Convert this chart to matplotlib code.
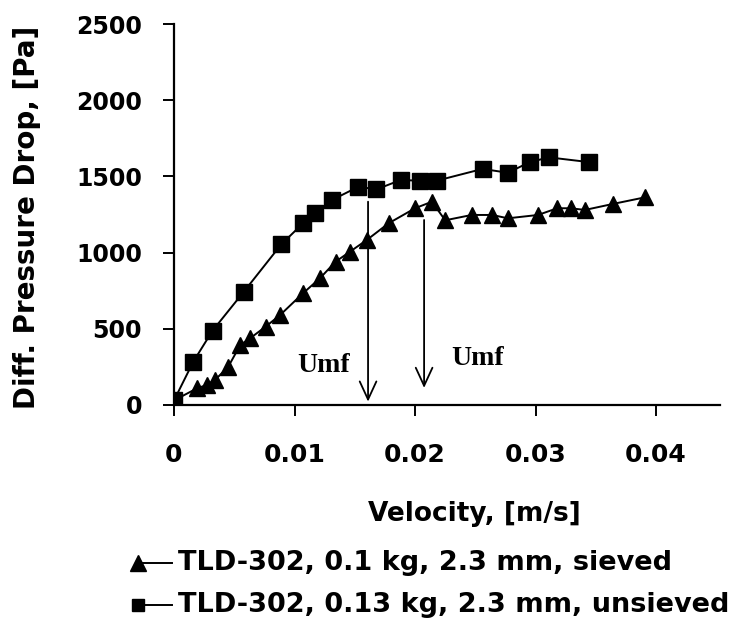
import matplotlib
matplotlib.use("Agg")
import matplotlib.pyplot as plt
from matplotlib.lines import Line2D

# Velocity [m/s] and differential pressure drop [Pa]
u_sieved = [0.0, 0.0019, 0.0027, 0.0034, 0.0045, 0.0055, 0.0063, 0.0076, 0.0088,
            0.0107, 0.0121, 0.0134, 0.0146, 0.0160, 0.0178, 0.0200, 0.0214, 0.0225,
            0.0247, 0.0264, 0.0277, 0.0302, 0.0318, 0.0329, 0.0341, 0.0364, 0.0391]
dp_sieved = [30, 109, 131, 164, 251, 394, 437, 514, 590,
             733, 831, 940, 1006, 1083, 1192, 1291, 1334, 1212,
             1247, 1247, 1225, 1247, 1291, 1291, 1280, 1319, 1363]

u_unsieved = [0.0, 0.0016, 0.0032, 0.0058, 0.0089, 0.0107, 0.0117, 0.0131, 0.0153,
              0.0168, 0.0188, 0.0204, 0.0218, 0.0256, 0.0277, 0.0295, 0.0311, 0.0344]
dp_unsieved = [30, 284, 488, 744, 1054, 1192, 1258, 1345, 1432,
               1415, 1476, 1472, 1472, 1549, 1524, 1593, 1625, 1594]

label_sieved = "TLD-302, 0.1 kg, 2.3 mm, sieved"
label_unsieved = "TLD-302, 0.13 kg, 2.3 mm, unsieved"

# Minimum fluidization velocity markers: (velocity, arrow top, arrow tip, text x, text y)
umf_x = [0.0161, 0.02075]
umf_top = [1334, 1214]
umf_tip = [22, 112]
umf_text_x = [0.01245, 0.0252]
umf_text_y = [262, 302]

x_ticks = [0, 0.01, 0.02, 0.03, 0.04]
x_ticklabels = ["0", "0.01", "0.02", "0.03", "0.04"]
y_ticks = [0, 500, 1000, 1500, 2000, 2500]

plt.rcParams["font.family"] = ["DejaVu Sans"]

fig = plt.figure(figsize=(7.4, 6.28), dpi=100)
W, H = 740, 628
AX_L, AX_R, AX_T, AX_B = 174, 720, 24, 405
ax = fig.add_axes([AX_L / W, 1 - AX_B / H, (AX_R - AX_L) / W, (AX_B - AX_T) / H])

ax.plot(u_sieved, dp_sieved, color="black", lw=1.4, marker="^", ms=11,
        mfc="black", mec="black", zorder=3)
ax.plot(u_unsieved, dp_unsieved, color="black", lw=1.4, marker="s", ms=11,
        mfc="black", mec="black", zorder=3)

ax.set_xlim(0, 0.0453)
ax.set_ylim(0, 2500)
ax.set_xticks(x_ticks)
ax.set_xticklabels(x_ticklabels)
ax.set_yticks(y_ticks)

for side in ("top", "right"):
    ax.spines[side].set_visible(False)
for side in ("left", "bottom"):
    ax.spines[side].set_linewidth(1.6)
    ax.spines[side].set_color("black")

ax.tick_params(axis="both", direction="out", length=8, width=1.4, colors="black")
ax.tick_params(axis="x", pad=19, labelsize=18)
ax.tick_params(axis="y", pad=15, labelsize=17)
for lab in ax.get_xticklabels() + ax.get_yticklabels():
    lab.set_fontweight("bold")

ax.set_xlabel("Velocity, [m/s]", fontsize=19, fontweight="bold")
ax.xaxis.label.set_va("center")
ax.xaxis.set_label_coords((474 - AX_L) / (AX_R - AX_L), -(514 - AX_B) / (AX_B - AX_T))
ax.set_ylabel("Diff. Pressure Drop, [Pa]", fontsize=20, fontweight="bold")
ax.yaxis.label.set_va("center")
ax.yaxis.set_label_coords(-(AX_L - 27) / (AX_R - AX_L), (AX_B - 217) / (AX_B - AX_T))

for x, top, tip, tx, ty in zip(umf_x, umf_top, umf_tip, umf_text_x, umf_text_y):
    ax.annotate("", xy=(x, tip), xytext=(x, top),
                arrowprops=dict(arrowstyle="->,head_length=1.3,head_width=0.6",
                                color="black", lw=1.3, mutation_scale=10,
                                shrinkA=0, shrinkB=0))
    ax.text(tx, ty, "Umf", family="Liberation Serif", fontweight="bold",
            fontsize=20, ha="center", va="center")

# Legend drawn below the axes: marker on the left, short line, then label
legend_rows = [(563, "^", 11, label_sieved), (605, "s", 9, label_unsieved)]
for yp, mk, ms, text in legend_rows:
    yf = 1 - yp / H
    fig.add_artist(Line2D([138 / W, 172 / W], [yf, yf], transform=fig.transFigure,
                          color="black", lw=1.4))
    fig.add_artist(Line2D([138 / W], [yf], transform=fig.transFigure, marker=mk,
                          ms=ms, mfc="black", mec="black", color="black"))
    fig.text(178 / W, yf, text, fontsize=19.5, fontweight="bold", ha="left",
             va="center")

fig.savefig("out.png", dpi=100, facecolor="white")
